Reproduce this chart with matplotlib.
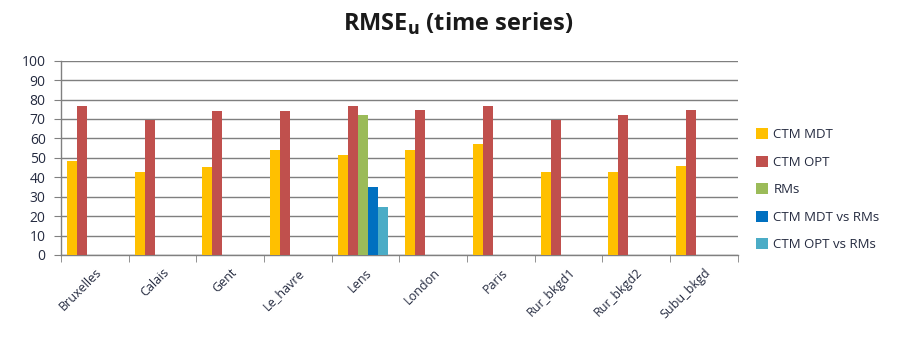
import matplotlib
matplotlib.use("Agg")
import matplotlib.pyplot as plt
import numpy as np

categories = ["Bruxelles", "Calais", "Gent", "Le_havre", "Lens", "London",
              "Paris", "Rur_bkgd1", "Rur_bkgd2", "Subu_bkgd"]
ctm_mdt = [48.4, 42.6, 45.5, 54, 51.3, 54, 57.3, 42.9, 42.9, 45.8]
ctm_opt = [76.7, 69.5, 74.3, 74.3, 76.7, 74.5, 76.9, 69.7, 71.8, 74.5]
rms = [np.nan, np.nan, np.nan, np.nan, 72.2, np.nan, np.nan, np.nan, np.nan, np.nan]
mdt_vs_rms = [np.nan, np.nan, np.nan, np.nan, 35.2, np.nan, np.nan, np.nan, np.nan, np.nan]
opt_vs_rms = [np.nan, np.nan, np.nan, np.nan, 24.9, np.nan, np.nan, np.nan, np.nan, np.nan]
series_names = ["CTM MDT", "CTM OPT", "RMs", "CTM MDT vs RMs", "CTM OPT vs RMs"]
colors = ["#FFC000", "#C0504D", "#9BBB59", "#0070C0", "#4BACC6"]

plt.rcParams['font.family'] = ['Open Sans', 'DejaVu Sans']
txt_color = "#252B40"

fig = plt.figure(figsize=(9.04, 3.39), dpi=100)
ax = fig.add_axes([0.0675, 0.248, 0.7485, 0.573])

x = np.arange(len(categories))
bw = 0.148
series = [ctm_mdt, ctm_opt, rms, mdt_vs_rms, opt_vs_rms]
for i, (vals, name, c) in enumerate(zip(series, series_names, colors)):
    ax.bar(x + (i - 2) * bw - 0.04, vals, width=bw, color=c, label=name, zorder=3)

ax.set_xlim(-0.5, len(categories) - 0.5)
ax.set_ylim(0, 100)
ax.set_yticks(np.arange(0, 101, 10))
ax.yaxis.grid(True, color="#7f7f7f", linewidth=1.0, zorder=0)
ax.set_axisbelow(True)

for s in ["top", "right"]:
    ax.spines[s].set_visible(False)
for s in ["left", "bottom"]:
    ax.spines[s].set_color("#808080")
    ax.spines[s].set_linewidth(1.0)

ax.set_xticks(x)
ax.set_xticklabels(categories, rotation=45, ha="right", rotation_mode="anchor",
                   fontsize=9, color=txt_color)
ax.tick_params(axis="x", length=0, pad=8)
ax.set_xticks(np.arange(-0.5, len(categories), 1.0), minor=True)
ax.tick_params(axis="x", which="minor", length=5, color="#808080", direction="out")
ax.tick_params(axis="y", length=5, color="#808080", labelsize=10, pad=6,
               labelcolor=txt_color)

fig.text(0.507, 0.93, r"RMSE$_{\mathbf{u}}$ (time series)", ha="center", va="center",
         fontsize=17, fontweight="bold", color="#1a1a1a")

ax.legend(loc="center left", bbox_to_anchor=(1.01, 0.335), frameon=False,
          fontsize=9.5, handlelength=0.9, handleheight=0.9, labelspacing=1.1,
          handletextpad=0.4, labelcolor=txt_color)

fig.savefig("out.png", dpi=100)
